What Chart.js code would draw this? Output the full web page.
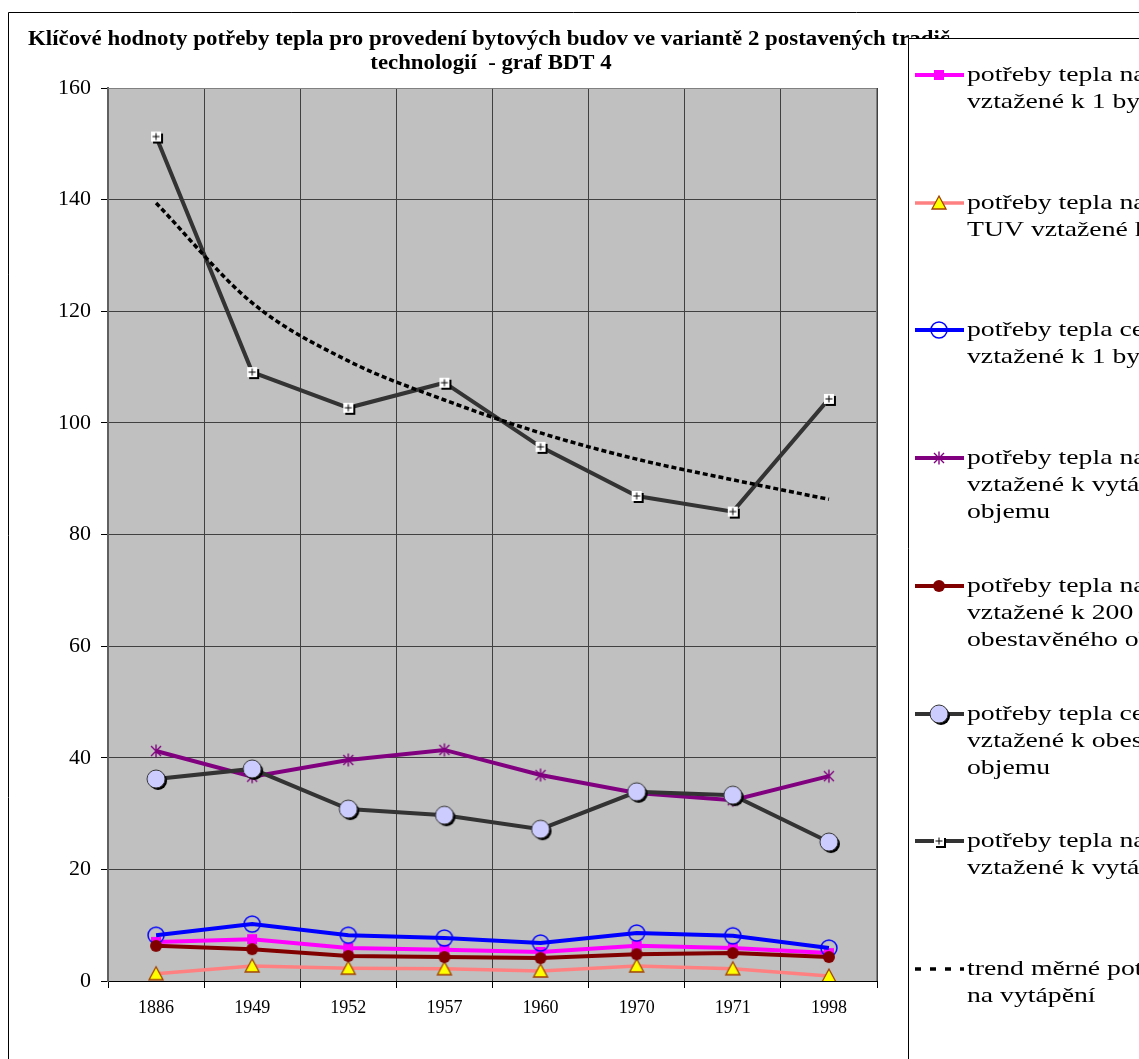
<!DOCTYPE html>
<html>
<head>
<meta charset="utf-8">
<script src="https://cdn.jsdelivr.net/npm/chart.js@4.4.1/dist/chart.umd.min.js"></script>
<style>
html,body{margin:0;padding:0;background:#fff;overflow:hidden;}
#wrap{width:1139px;height:1059px;}
</style>
</head>
<body>
<div id="wrap"><canvas id="c" width="1139" height="1059"></canvas></div>
<script>
// ---- data ----
const categories = ['1886','1949','1952','1957','1960','1970','1971','1998'];
const heatPerFlat      = [7.0, 7.5, 5.9, 5.6, 5.2, 6.3, 5.9, 5.0];
const tuvPerFlat       = [1.3, 2.7, 2.3, 2.2, 1.8, 2.7, 2.2, 0.9];
const totalPerFlat     = [8.2, 10.2, 8.2, 7.7, 6.8, 8.6, 8.1, 5.9];
const heatPerVolume    = [41.2, 36.6, 39.6, 41.4, 36.9, 33.7, 32.4, 36.7];
const heatPer200m3     = [6.3, 5.7, 4.5, 4.3, 4.1, 4.8, 5.0, 4.3];
const totalPerBuiltVol = [36.2, 38.0, 30.8, 29.7, 27.2, 33.9, 33.3, 24.9];
const heatPerArea      = [151.3, 109.1, 102.7, 107.2, 95.7, 86.9, 84.1, 104.3];
const trendHeat        = [139.4, 121.5, 111.1, 104.1, 98.2, 93.5, 89.8, 86.3];
const yTicks = [0, 20, 40, 60, 80, 100, 120, 140, 160];

const titleLines = ['Klíčové hodnoty potřeby tepla pro provedení bytových budov ve variantě 2 postavených tradič.',
                    'technologií  - graf BDT 4'];
const legendTexts = [
  ['potřeby tepla na vytápění', 'vztažené k 1 bytu'],
  ['potřeby tepla na ohřev', 'TUV vztažené k 1 bytu'],
  ['potřeby tepla celkem', 'vztažené k 1 bytu'],
  ['potřeby tepla na vytápění', 'vztažené k vytápěnému', 'objemu'],
  ['potřeby tepla na vytápění', 'vztažené k 200 m3', 'obestavěného objemu'],
  ['potřeby tepla celkem', 'vztažené k obestavěnému', 'objemu'],
  ['potřeby tepla na vytápění', 'vztažené k vytápěné ploše'],
  ['trend měrné potřeby tepla', 'na vytápění']
];

// ---- markers ----
function mk(size, draw){ const c=document.createElement('canvas'); c.width=c.height=size; const g=c.getContext('2d'); draw(g); return c; }
const mSquare = mk(12, g=>{ g.fillStyle='#ff00ff'; g.fillRect(1,1,10,10); });
const mTri = mk(18, g=>{ g.beginPath(); g.moveTo(9,2); g.lineTo(16,15); g.lineTo(2,15); g.closePath(); g.fillStyle='#ffff00'; g.fill(); g.strokeStyle='#a04000'; g.lineWidth=1.3; g.stroke(); });
const mOpen = mk(20, g=>{ g.beginPath(); g.arc(10,10,8,0,Math.PI*2); g.strokeStyle='#0000ff'; g.lineWidth=1.5; g.stroke(); });
const mStar = mk(16, g=>{ g.strokeStyle='#800080'; g.lineWidth=1.4; g.beginPath(); g.moveTo(8,1.5); g.lineTo(8,14.5); g.moveTo(3,3); g.lineTo(13,13); g.moveTo(13,3); g.lineTo(3,13); g.stroke(); });
const mDot = mk(14, g=>{ g.beginPath(); g.arc(7,7,6,0,Math.PI*2); g.fillStyle='#800000'; g.fill(); });
const mLav = mk(28, g=>{ g.beginPath(); g.arc(16,16,9,0,Math.PI*2); g.fillStyle='#000'; g.fill(); g.beginPath(); g.arc(14,14,9,0,Math.PI*2); g.fillStyle='#ccccff'; g.fill(); g.strokeStyle='#333'; g.lineWidth=1; g.stroke(); });
const mPlus = mk(18, g=>{ g.fillStyle='#000'; g.fillRect(6,6,10,10); g.fillStyle='#fff'; g.fillRect(4,4,10,10); g.strokeStyle='#000'; g.lineWidth=1; g.beginPath(); g.moveTo(5.5,9); g.lineTo(12.5,9); g.moveTo(9,5.5); g.lineTo(9,12.5); g.stroke(); });

function ds(data, color, width, marker, i, extra){
  return Object.assign({data, borderColor:color, backgroundColor:color, borderWidth:width, pointStyle:marker,
    pointRadius:6, tension:0, fill:false, order:8-i}, extra||{});
}
const datasets = [
  ds(heatPerFlat, '#ff00ff', 4, mSquare, 0),
  ds(tuvPerFlat, '#ff8080', 3.5, mTri, 1),
  ds(totalPerFlat, '#0000ff', 4, mOpen, 2),
  ds(heatPerVolume, '#800080', 4, mStar, 3),
  ds(heatPer200m3, '#800000', 4, mDot, 4),
  ds(totalPerBuiltVol, '#333333', 4, mLav, 5),
  ds(heatPerArea, '#333333', 4, mPlus, 6),
  ds(trendHeat, '#000000', 3.5, false, 7, {borderDash:[5,3], pointRadius:0, cubicInterpolationMode:'monotone', borderCapStyle:'butt'})
];
datasets.forEach((d,i)=>d.label=legendTexts[i].join(' '));

function stretchText(ctx, text, x, y, sx){
  ctx.save(); ctx.translate(x, y); ctx.scale(sx, 1); ctx.fillText(text, 0, 0); ctx.restore();
}

const frame = {
  id:'frame',
  beforeDraw(chart){
    const {ctx, chartArea:a} = chart;
    ctx.save();
    ctx.fillStyle='#fff'; ctx.fillRect(0,0,chart.width,chart.height);
    ctx.strokeStyle='#000'; ctx.lineWidth=1;
    ctx.beginPath(); ctx.moveTo(8.5,1059); ctx.lineTo(8.5,12.5); ctx.lineTo(1139,12.5); ctx.stroke();
    ctx.fillStyle='#c0c0c0'; ctx.fillRect(a.left,a.top,a.right-a.left,a.bottom-a.top);
    ctx.restore();
  },
  afterDraw(chart){
    const {ctx, chartArea:a} = chart;
    ctx.save();
    ctx.strokeStyle='#808080'; ctx.lineWidth=1;
    ctx.beginPath(); ctx.moveTo(a.left, a.top+0.5); ctx.lineTo(a.right-0.5, a.top+0.5); ctx.lineTo(a.right-0.5, a.bottom); ctx.stroke();
    // title
    ctx.fillStyle='#000'; ctx.textBaseline='middle';
    ctx.font='bold 20px "Liberation Serif", "Times New Roman", serif';
    ctx.textAlign='left'; stretchText(ctx, titleLines[0], 28, 40, 1.144);
    ctx.textAlign='center'; stretchText(ctx, titleLines[1], 491, 64, 1.14);
    // legend box
    const lx=908.5, ly=38.5;
    ctx.fillStyle='#fff'; ctx.fillRect(lx, ly, 1139-lx, 1059-ly);
    ctx.strokeStyle='#000'; ctx.lineWidth=1;
    ctx.beginPath(); ctx.moveTo(lx,1059); ctx.lineTo(lx,ly); ctx.lineTo(1139,ly); ctx.stroke();
    ctx.font='21px "Liberation Serif", "Times New Roman", serif';
    ctx.textAlign='left'; ctx.textBaseline='middle';
    chart.data.datasets.forEach((d,i)=>{
      const y = Math.round(75 + i*127.7);
      ctx.save();
      ctx.strokeStyle=d.borderColor; ctx.lineWidth=d.borderWidth;
      if(d.borderDash){ ctx.setLineDash([6,9]); ctx.lineWidth=3.5; }
      ctx.beginPath(); ctx.moveTo(915,y); ctx.lineTo(964,y); ctx.stroke();
      ctx.restore();
      if(d.pointStyle){ const im=d.pointStyle; ctx.drawImage(im, 939-im.width/2, y-im.height/2); }
      ctx.fillStyle='#000';
      legendTexts[i].forEach((t,j)=>stretchText(ctx, t, 967, y + j*27, 1.32));
    });
    ctx.restore();
  }
};

new Chart(document.getElementById('c'), {
  type:'line',
  data:{labels:categories, datasets},
  options:{
    responsive:false, animation:false,
    layout:{padding:{top:88, right:262, left:0, bottom:0}},
    plugins:{legend:{display:false}, title:{display:false}, tooltip:{enabled:false}},
    scales:{
      x:{
        offset:true,
        grid:{offset:true, color:'#404040', lineWidth:1, tickLength:7, tickColor:'#000'},
        border:{color:'#000', width:1},
        ticks:{color:'#000', padding:9, font:{family:'"Liberation Serif", serif', size:18}},
        afterFit(s){ s.height = 78; }
      },
      y:{
        min:0, max:160,
        afterBuildTicks(s){ s.ticks = yTicks.map(v=>({value:v})); },
        grid:{color:'#404040', lineWidth:1, tickLength:7, tickColor:'#000'},
        border:{color:'#606060', width:2},
        ticks:{color:'#000', padding:10, font:{family:'"Liberation Serif", serif', size:22}},
        afterFit(s){ s.width = 108; }
      }
    }
  },
  plugins:[frame]
});
</script>
</body>
</html>
